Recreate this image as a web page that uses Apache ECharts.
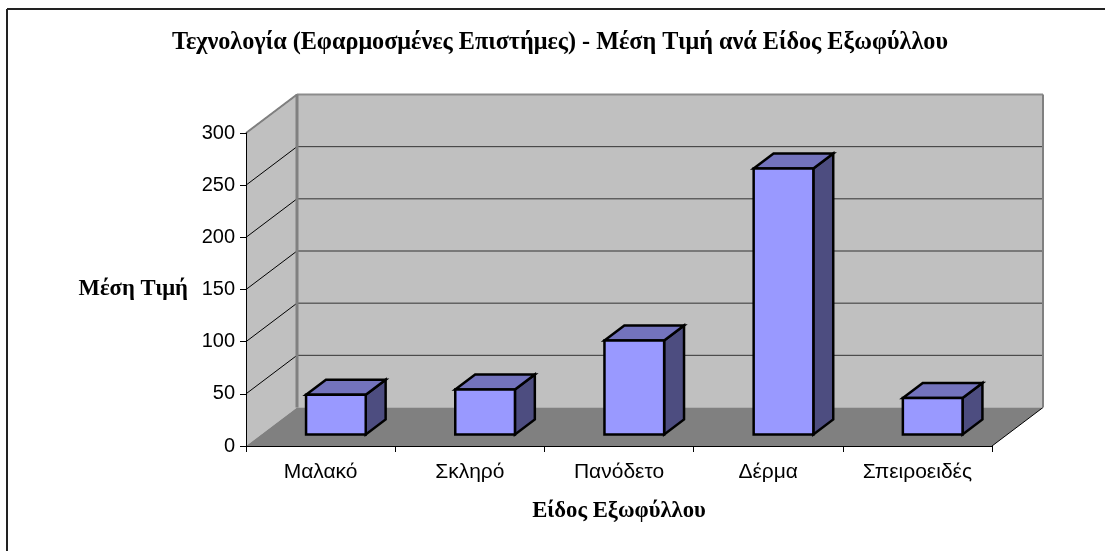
<!DOCTYPE html>
<html>
<head>
<meta charset="utf-8">
<style>
  html, body { margin: 0; padding: 0; background: #fff; }
  #main { width: 1105px; height: 551px; }
</style>
<script src="https://cdn.jsdelivr.net/npm/echarts@6/dist/echarts.min.js"></script>
</head>
<body>
<div id="main"></div>
<script>
  const categories = ['Μαλακό', 'Σκληρό', 'Πανόδετο', 'Δέρμα', 'Σπειροειδές'];
  const avgPrice = [38, 43, 90, 255, 35];
  const yTicks = [0, 50, 100, 150, 200, 250, 300];

  // depth of the fake 3d box, in px
  const depthX = 51;
  const depthY = 38.5;
  const serif = '"Liberation Serif", serif';
  const sans = '"Liberation Sans", sans-serif';

  const polygon = (points, fill, stroke, lineWidth) => ({
    type: 'polygon',
    shape: { points },
    style: { fill, stroke: stroke || 'none', lineWidth: lineWidth || 0, lineJoin: 'miter' },
  });
  const line = (a, b, stroke, lineWidth) => ({
    type: 'line',
    shape: { x1: a[0], y1: a[1], x2: b[0], y2: b[1] },
    style: { stroke, lineWidth },
  });

  // left wall, back wall and floor
  const renderWalls = (params) => {
    const g = params.coordSys;
    const x0 = g.x;
    const x1 = g.x + g.width;
    const top = g.y;
    const bottom = g.y + g.height;
    return {
      type: 'group',
      children: [
        polygon([[x0, top], [x0 + depthX, top - depthY], [x0 + depthX, bottom - depthY], [x0, bottom]], '#c0c0c0'),
        polygon([[x0 + depthX, top - depthY], [x1 + depthX, top - depthY], [x1 + depthX, bottom - depthY], [x0 + depthX, bottom - depthY]], '#c0c0c0'),
        polygon([[x0, bottom], [x0 + depthX, bottom - depthY], [x1 + depthX, bottom - depthY], [x1, bottom]], '#808080'),
      ],
    };
  };

  const renderGridLine = (params, api) => {
    const g = params.coordSys;
    const y = api.coord([0, api.value(0)])[1];
    const x0 = g.x;
    const x1 = g.x + g.width;
    if (api.value(0) === 0) {
      return line([x1, y], [x1 + depthX, y - depthY], '#000', 1);
    }
    return {
      type: 'group',
      children: [
        line([x0, y], [x0 + depthX, y - depthY], '#000', 1),
        line([x0 + depthX, y - depthY], [x1 + depthX, y - depthY], '#333', 1),
      ],
    };
  };

  // wall borders go on top of the grid lines
  const renderWallEdges = (params) => {
    const g = params.coordSys;
    const x0 = g.x;
    const x1 = g.x + g.width;
    const top = g.y;
    const bottom = g.y + g.height;
    return {
      type: 'group',
      children: [
        line([x0, top], [x0 + depthX, top - depthY], '#808080', 2),
        line([x0 + depthX, top - depthY], [x1 + depthX, top - depthY], '#8c8c8c', 2),
        line([x0 + depthX, top - depthY], [x0 + depthX, bottom - depthY], '#808080', 3),
        line([x1 + depthX, top - depthY], [x1 + depthX, bottom - depthY], '#808080', 2),
      ],
    };
  };

  const renderBar = (params, api) => {
    const center = api.coord([api.value(0), 0]);
    const topY = api.coord([api.value(0), api.value(1)])[1];
    const w = api.size([1, 0])[0] * 0.4;
    const ox = depthX * 0.3;
    const oy = depthY * 0.3;
    const dx = depthX * 0.39;
    const dy = depthY * 0.39;
    const l = center[0] - w / 2 + ox;
    const r = l + w;
    const b = center[1] - oy;
    const t = topY - oy;
    return {
      type: 'group',
      children: [
        polygon([[r, t], [r + dx, t - dy], [r + dx, b - dy], [r, b]], '#4d4d80', '#000', 2.5),
        polygon([[l, t], [l + dx, t - dy], [r + dx, t - dy], [r, t]], '#7373bd', '#000', 2.5),
        polygon([[l, t], [r, t], [r, b], [l, b]], '#9999ff', '#000', 2.5),
      ],
    };
  };

  const chart = echarts.init(document.getElementById('main'), null, { renderer: 'canvas' });
  chart.setOption({
    animation: false,
    backgroundColor: '#fff',
    title: {
      text: 'Τεχνολογία (Εφαρμοσμένες Επιστήμες) - Μέση Τιμή ανά Είδος Εξωφύλλου',
      left: 555,
      top: 26,
      textAlign: 'center',
      textStyle: { fontFamily: serif, fontSize: 24.2, fontWeight: 'bold', color: '#000' },
    },
    graphic: [
      { type: 'line', shape: { x1: 7, y1: 9, x2: 1105, y2: 9 }, style: { stroke: '#222', lineWidth: 2 } },
      { type: 'line', shape: { x1: 7, y1: 9, x2: 7, y2: 551 }, style: { stroke: '#222', lineWidth: 2 } },
    ],
    grid: { left: 246, top: 133, width: 746, height: 313 },
    xAxis: {
      type: 'category',
      data: categories,
      z: 5,
      name: 'Είδος Εξωφύλλου',
      nameLocation: 'middle',
      nameGap: 54,
      nameTextStyle: { fontFamily: serif, fontSize: 22.7, fontWeight: 'bold', color: '#000' },
      axisLine: { lineStyle: { color: '#000', width: 1 } },
      axisTick: { show: true, length: 6, lineStyle: { color: '#000' } },
      axisLabel: { interval: 0, margin: 16, fontFamily: sans, fontSize: 21, color: '#000' },
      splitLine: { show: false },
    },
    yAxis: {
      type: 'value',
      min: 0,
      max: 300,
      interval: 50,
      z: 5,
      name: 'Μέση Τιμή',
      nameLocation: 'middle',
      nameRotate: 0,
      nameGap: 58,
      nameTextStyle: { fontFamily: serif, fontSize: 22.7, fontWeight: 'bold', color: '#000' },
      axisLine: { show: true, lineStyle: { color: '#000', width: 1 } },
      axisTick: { show: true, length: 6, lineStyle: { color: '#000' } },
      axisLabel: { margin: 11, fontFamily: sans, fontSize: 20, color: '#000' },
      splitLine: { show: false },
    },
    series: [
      { type: 'custom', z: 1, clip: false, silent: true, renderItem: renderWalls, data: [0] },
      { type: 'custom', z: 2, clip: false, silent: true, renderItem: renderGridLine, encode: { y: 0 }, data: yTicks.map((v) => [v]) },
      { type: 'custom', z: 3, clip: false, silent: true, renderItem: renderWallEdges, data: [0] },
      {
        type: 'custom',
        z: 4,
        clip: false,
        silent: true,
        renderItem: renderBar,
        encode: { x: 0, y: 1 },
        data: avgPrice.map((v, i) => [i, v]),
      },
    ],
  });
</script>
</body>
</html>
